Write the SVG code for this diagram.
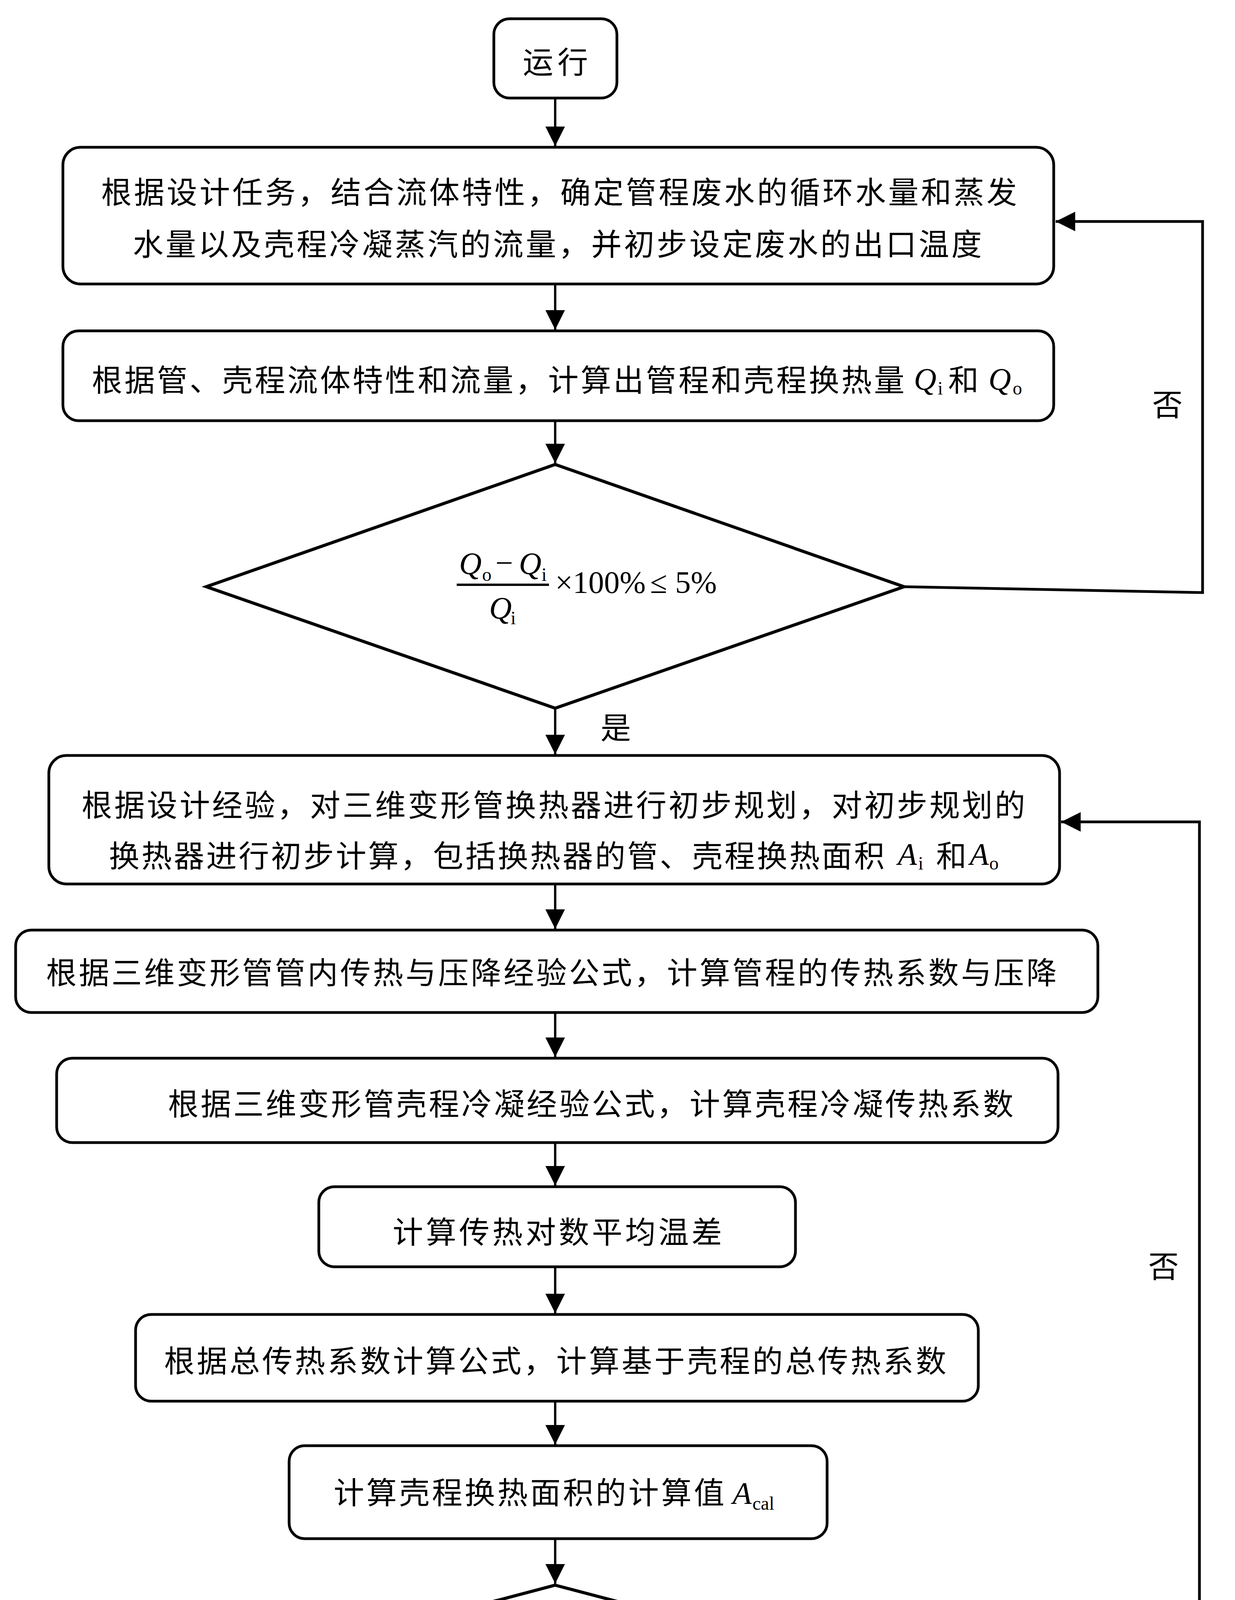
<svg xmlns="http://www.w3.org/2000/svg" width="3161" height="5004" viewBox="0 0 3161 5004">
<style>
.box{fill:#fff;stroke:#000;stroke-width:7}
.dia{fill:#fff;stroke:#000;stroke-width:8;stroke-linejoin:miter}
.con{fill:none;stroke:#000;stroke-width:6}
.fb{fill:none;stroke:#000;stroke-width:7}
.cjk{font-family:"Liberation Serif","Noto Sans CJK SC",serif;font-size:78px;fill:#000}
.lat{font-family:"Liberation Serif",serif;font-size:80px;fill:#000}
.it{font-style:italic}
.sub{font-family:"Liberation Serif",serif;font-size:48px;fill:#000}
</style>
<defs>
<marker id="arr" markerUnits="userSpaceOnUse" markerWidth="50" markerHeight="50" refX="50" refY="25" orient="auto">
<path d="M0,0 L50,25 L0,50 Z" fill="#000"/>
</marker>
</defs>
<rect width="3161" height="5004" fill="#fff"/>

<g id="connectors">
<line class="con" x1="1421" y1="251" x2="1421" y2="374" marker-end="url(#arr)"/>
<line class="con" x1="1421" y1="727" x2="1421" y2="844" marker-end="url(#arr)"/>
<line class="con" x1="1421" y1="1077" x2="1421" y2="1186" marker-end="url(#arr)"/>
<polyline class="fb" points="2314,1502 3078,1517 3078,567 2702,567" marker-end="url(#arr)"/>
<line class="con" x1="1421" y1="1813" x2="1421" y2="1931" marker-end="url(#arr)"/>
<polyline class="fb" points="2564,4358 3070,4352 3070,2104 2716,2104" marker-end="url(#arr)"/>
<line class="con" x1="1421" y1="2263" x2="1421" y2="2378" marker-end="url(#arr)"/>
<line class="con" x1="1421" y1="2592" x2="1421" y2="2706" marker-end="url(#arr)"/>
<line class="con" x1="1421" y1="2925" x2="1421" y2="3035" marker-end="url(#arr)"/>
<line class="con" x1="1421" y1="3243" x2="1421" y2="3362" marker-end="url(#arr)"/>
<line class="con" x1="1421" y1="3587" x2="1421" y2="3698" marker-end="url(#arr)"/>
<line class="con" x1="1421" y1="3939" x2="1421" y2="4054" marker-end="url(#arr)"/>
<line class="con" x1="1423" y1="4657" x2="1423" y2="4771" marker-end="url(#arr)"/>
<text class="cjk" x="2988" y="1065" text-anchor="middle">否</text>
<text class="cjk" x="2978" y="3271" text-anchor="middle">否</text>
<text class="cjk" x="1576" y="1892" text-anchor="middle">是</text>
<text class="cjk" x="1567" y="4732" text-anchor="middle">是</text>
</g>

<g id="start">
<rect class="box" x="1264" y="48" width="315" height="203" rx="40"/>
<text class="cjk" x="1338" y="188" textLength="167" lengthAdjust="spacing">运行</text>
</g>

<g id="step1">
<rect class="box" x="161" y="377" width="2536" height="350" rx="45"/>
<text class="cjk" x="259" y="521" textLength="2344" lengthAdjust="spacing">根据设计任务，结合流体特性，确定管程废水的循环水量和蒸发</text>
<text class="cjk" x="340" y="654" textLength="2173" lengthAdjust="spacing">水量以及壳程冷凝蒸汽的流量，并初步设定废水的出口温度</text>
</g>

<g id="step2">
<rect class="box" x="161" y="847" width="2536" height="230" rx="40"/>
<text class="cjk" x="235" y="1002" textLength="2080" lengthAdjust="spacing">根据管、壳程流体特性和流量，计算出管程和壳程换热量</text>
<text class="lat it" x="2339" y="998">Q</text>
<text class="sub" x="2400" y="1010">i</text>
<text class="cjk" x="2427" y="1002">和</text>
<text class="lat it" x="2530" y="998">Q</text>
<text class="sub" x="2592" y="1010">o</text>
</g>

<g id="check1">
<polygon class="dia" points="1421,1189 2314,1502 1421,1813 528,1502"/>
<text class="lat it" x="1175" y="1470">Q</text>
<text class="sub" x="1234" y="1487">o</text>
<text class="lat" x="1268" y="1468">−</text>
<text class="lat it" x="1328" y="1470">Q</text>
<text class="sub" x="1386" y="1487">i</text>
<rect x="1169" y="1494" width="236" height="6" fill="#000"/>
<text class="lat it" x="1252" y="1584">Q</text>
<text class="sub" x="1307" y="1598">i</text>
<text class="lat" x="1421" y="1518">×100%</text>
<text class="lat" x="1664" y="1518">≤</text>
<text class="lat" x="1728" y="1518">5%</text>
</g>

<g id="step3">
<rect class="box" x="125" y="1934" width="2587" height="329" rx="45"/>
<text class="cjk" x="209" y="2090" textLength="2415" lengthAdjust="spacing">根据设计经验，对三维变形管换热器进行初步规划，对初步规划的</text>
<text class="cjk" x="279" y="2220" textLength="1985" lengthAdjust="spacing">换热器进行初步计算，包括换热器的管、壳程换热面积</text>
<text class="lat it" x="2298" y="2214">A</text>
<text class="sub" x="2350" y="2226">i</text>
<text class="cjk" x="2396" y="2220">和</text>
<text class="lat it" x="2482" y="2214">A</text>
<text class="sub" x="2532" y="2226">o</text>
</g>

<g id="step4">
<rect class="box" x="40" y="2381" width="2770" height="211" rx="40"/>
<text class="cjk" x="118" y="2519" textLength="2587" lengthAdjust="spacing">根据三维变形管管内传热与压降经验公式，计算管程的传热系数与压降</text>
</g>

<g id="step5">
<rect class="box" x="145" y="2709" width="2563" height="216" rx="40"/>
<text class="cjk" x="430" y="2855" textLength="2164" lengthAdjust="spacing">根据三维变形管壳程冷凝经验公式，计算壳程冷凝传热系数</text>
</g>

<g id="step6">
<rect class="box" x="816" y="3038" width="1220" height="205" rx="40"/>
<text class="cjk" x="1005" y="3183" textLength="843" lengthAdjust="spacing">计算传热对数平均温差</text>
</g>

<g id="step7">
<rect class="box" x="347" y="3365" width="2157" height="222" rx="40"/>
<text class="cjk" x="420" y="3513" textLength="2002" lengthAdjust="spacing">根据总传热系数计算公式，计算基于壳程的总传热系数</text>
</g>

<g id="step8">
<rect class="box" x="740" y="3701" width="1377" height="238" rx="40"/>
<text class="cjk" x="854" y="3850" textLength="1000" lengthAdjust="spacing">计算壳程换热面积的计算值</text>
<text class="lat it" x="1875" y="3850">A</text>
<text class="sub" x="1926" y="3865">cal</text>
</g>

<g id="check2">
<polygon class="dia" points="1421,4058 2564,4358 1421,4657 282,4358"/>
<text class="lat it" x="893" y="4377">η</text>
<text class="lat" x="950" y="4380">=</text>
<rect x="1018" y="4355" width="272" height="6" fill="#000"/>
<text class="lat it" x="1031" y="4328">A</text>
<text class="sub" x="1078" y="4348">cal</text>
<text class="lat" x="1143" y="4355">−</text>
<text class="lat it" x="1210" y="4328">A</text>
<text class="sub" x="1259" y="4347">o</text>
<text class="lat it" x="1116" y="4440">A</text>
<text class="sub" x="1165" y="4462">o</text>
<text class="lat" x="1308" y="4377">×100%</text>
<text class="lat" x="1555" y="4377">≈</text>
<text class="lat" x="1618" y="4377">15%</text>
<text class="lat" x="1775" y="4377">~</text>
<text class="lat" x="1842" y="4377">25%</text>
</g>

<g id="end">
<rect class="box" x="1162" y="4774" width="530" height="201" rx="35"/>
<text class="cjk" x="1264" y="4913" textLength="331" lengthAdjust="spacing">输出结果</text>
</g>
</svg>
